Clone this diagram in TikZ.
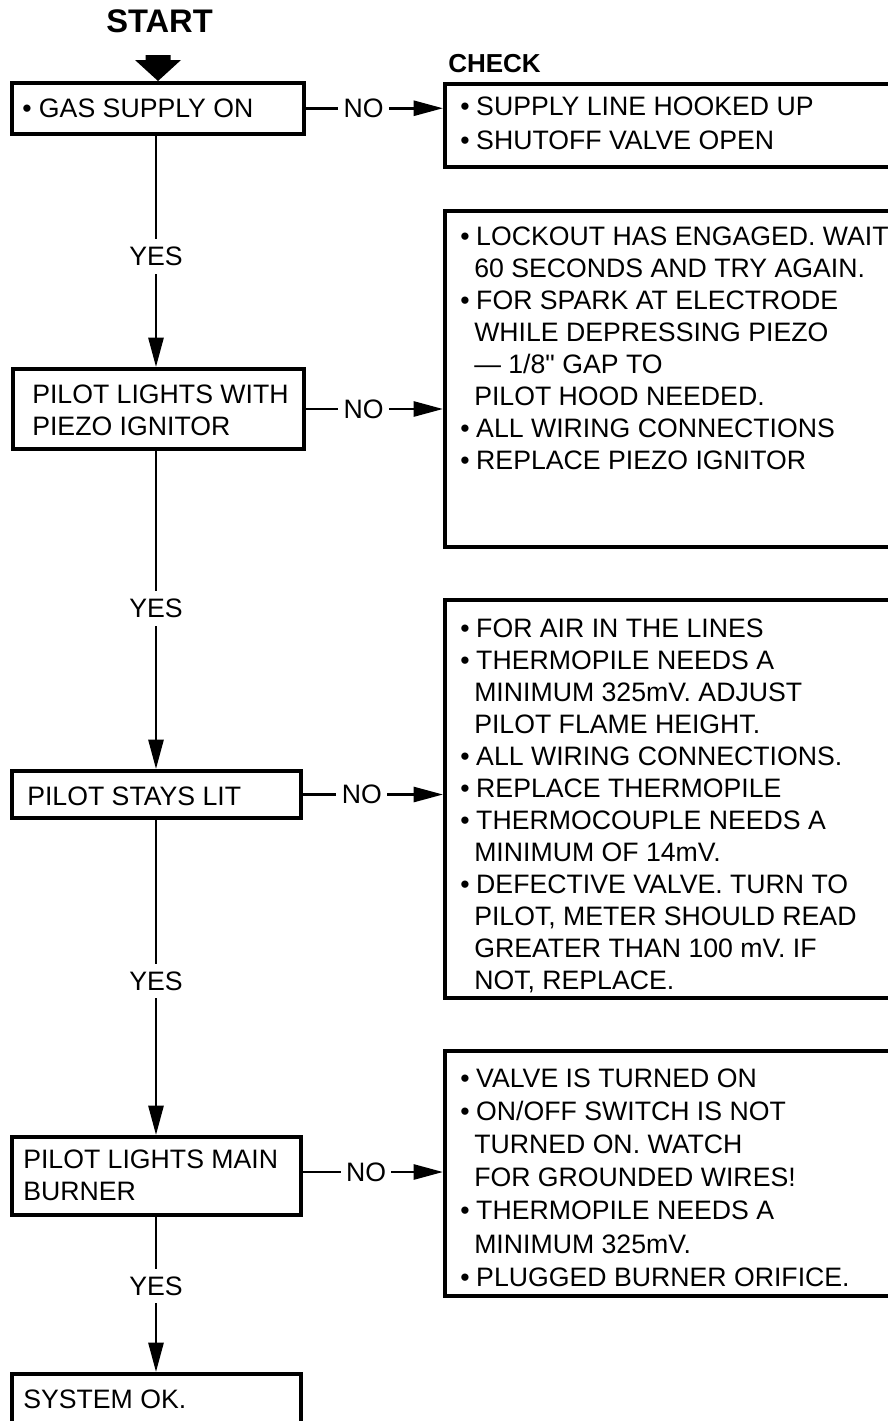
\documentclass[tikz,border=0pt]{standalone}
\usepackage{fontspec}
\setmainfont{Liberation Sans}
\newfontfamily\nomap{Liberation Sans}[Ligatures=TeXOff]
\usetikzlibrary{arrows.meta,calc}
\newcommand\mainf{\fontsize{20pt}{24pt}\selectfont}
\newcommand\bl{\makebox[12pt][l]{•}}
\newcommand\ct{\hspace*{10.5pt}}
\begin{document}
\begin{tikzpicture}[x=0.75pt,y=-0.75pt,
  box/.style={draw, line width=3pt, inner sep=0pt},
  txt/.style={inner sep=0pt, font=\mainf, anchor=base west},
  conn/.style={line width=2pt, -{Triangle[width=11.25pt,length=22pt]}},
  lab/.style={fill=white, inner xsep=4pt, inner ysep=6pt, font=\mainf},
  head/.style={inner sep=0pt, font=\bfseries\fontsize{19.5pt}{24pt}\selectfont, anchor=base west}]
\useasboundingbox (0,0) rectangle (888,1421);
\clip (0,0) rectangle (888,1421);
\coordinate (spine) at (156,0);

% left column boxes
\node[box, minimum width=219pt, minimum height=37.875pt] (b1) at (158,108.25) {};
\node[box, minimum width=218.25pt, minimum height=60pt] (b2) at (158.5,409) {};
\node[box, minimum width=216.75pt, minimum height=35.25pt] (b3) at (156.5,794.5) {};
\node[box, minimum width=216.75pt, minimum height=58.5pt] (b4) at (156.5,1176) {};
\node[box, minimum width=216.75pt, minimum height=64.5pt] (b5) at (156.5,1417) {};

\node[txt] (t1) at (22,117) {• GAS SUPPLY ON};
\node[txt] (t2) at (32,403) {\begin{tabular}[t]{@{}l@{}}PILOT LIGHTS WITH\\ PIEZO IGNITOR\end{tabular}};
\node[txt] (t3) at (27,805) {PILOT STAYS LIT};
\node[txt] (t4) at (23,1168) {\begin{tabular}[t]{@{}l@{}}PILOT LIGHTS MAIN\\ BURNER\end{tabular}};
\node[txt] (t5) at (23,1408) {SYSTEM OK.};

% check boxes
\node[box, minimum width=345pt, minimum height=62.25pt] (c1) at (675,125.5) {};
\node[box, minimum width=345pt, minimum height=252.375pt] (c2) at (675,378.75) {};
\node[box, minimum width=345pt, minimum height=298.875pt] (c3) at (675,798.75) {};
\node[box, minimum width=345pt, minimum height=183.75pt] (c4) at (675,1173.5) {};

\node[head] (check) at (448,72) {CHECK};
\node[inner sep=0pt, font=\bfseries\fontsize{24.5pt}{28pt}\selectfont, anchor=base] (start) at (159.5,32) {START};

\node[txt] (k1) at (460,115) {\renewcommand\arraystretch{1.0625}%
\begin{tabular}[t]{@{}l@{}}
\bl SUPPLY LINE HOOKED UP\\
\bl SHUTOFF VALVE OPEN
\end{tabular}};

\node[txt] (k2) at (460,245) {%
\begin{tabular}[t]{@{}l@{}}
\bl LOCKOUT HAS ENGAGED. WAIT\\
\ct 60 SECONDS AND TRY AGAIN.\\
\bl FOR SPARK AT ELECTRODE\\
\ct WHILE DEPRESSING PIEZO\\
\ct — 1/8{\nomap"} GAP TO\\
\ct PILOT HOOD NEEDED.\\
\bl ALL WIRING CONNECTIONS\\
\bl REPLACE PIEZO IGNITOR
\end{tabular}};

\node[txt] (k3) at (460,637) {%
\begin{tabular}[t]{@{}l@{}}
\bl FOR AIR IN THE LINES\\
\bl THERMOPILE NEEDS A\\
\ct MINIMUM 325mV. ADJUST\\
\ct PILOT FLAME HEIGHT.\\
\bl ALL WIRING CONNECTIONS.\\
\bl REPLACE THERMOPILE\\
\bl THERMOCOUPLE NEEDS A\\
\ct MINIMUM OF 14mV.\\
\bl DEFECTIVE VALVE. TURN TO\\
\ct PILOT, METER SHOULD READ\\
\ct GREATER THAN 100 mV. IF\\
\ct NOT, REPLACE.
\end{tabular}};

\node[txt] (k4) at (460,1087) {\renewcommand\arraystretch{1.0375}%
\begin{tabular}[t]{@{}l@{}}
\bl VALVE IS TURNED ON\\
\bl ON/OFF SWITCH IS NOT\\
\ct TURNED ON. WATCH\\
\ct FOR GROUNDED WIRES!\\
\bl THERMOPILE NEEDS A\\
\ct MINIMUM 325mV.\\
\bl PLUGGED BURNER ORIFICE.
\end{tabular}};

% start arrow
\fill (b1.north) -- ++(23,-21) -- ++(-10.5,0) -- ++(0,-5) -- ++(-25,0) -- ++(0,5) -- ++(-10.5,0) -- cycle;

% YES connectors
\draw[conn] (b1.south -| spine) -- node[lab, pos=0.524] (y1) {YES} (b2.north -| spine);
\draw[conn] (b2.south -| spine) -- node[lab, pos=0.494] (y2) {YES} (b3.north -| spine);
\draw[conn] (b3.south -| spine) -- node[lab, pos=0.511] (y3) {YES} (b4.north -| spine);
\draw[conn] (b4.south -| spine) -- node[lab, pos=0.445] (y4) {YES} (b5.north -| spine);

% NO connectors
\draw[conn] (b1.east) -- node[lab, pos=0.42] (n1) {NO} (c1.west |- b1.east);
\draw[conn] (b2.east) -- node[lab, pos=0.42] (n2) {NO} (c2.west |- b2.east);
\draw[conn] (b3.east) -- node[lab, pos=0.42] (n3) {NO} (c3.west |- b3.east);
\coordinate (b4no) at ($(b4.east)+(0,-4)$);
\draw[conn] (b4no) -- node[lab, pos=0.45] (n4) {NO} (c4.west |- b4no);
\end{tikzpicture}
\end{document}
